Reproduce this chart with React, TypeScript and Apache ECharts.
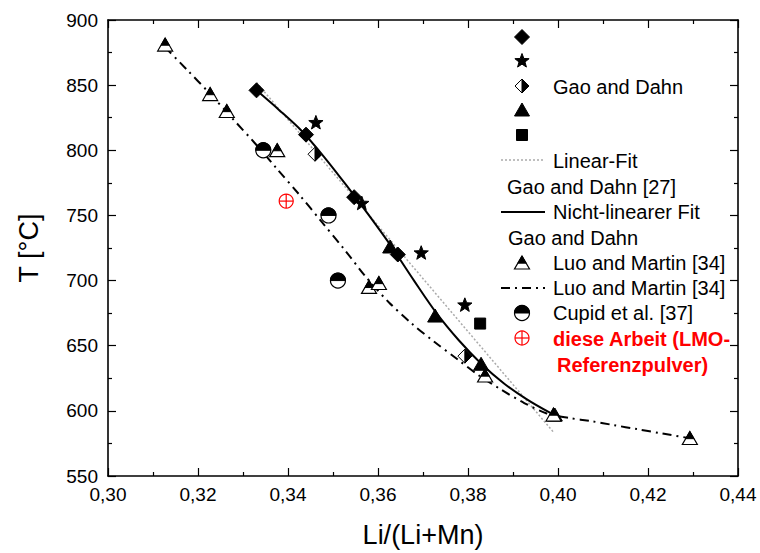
import React, { useEffect, useRef } from "react";
import * as echarts from "echarts";

// ---- data (Li/(Li+Mn), T in °C) ----
const gaoDiamond = [[0.333, 846], [0.344, 812], [0.3547, 764], [0.3644, 720]];
const gaoStar = [[0.3462, 821], [0.3564, 759], [0.3696, 721], [0.3793, 681]];
const gaoHalfDiamond = [[0.346, 797], [0.3793, 642]];
const gaoTriangle = [[0.3627, 725], [0.3727, 672], [0.3829, 635], [0.3993, 596]];
const gaoSquare = [[0.3827, 667]];
const linearFit = [[0.333, 852], [0.3989, 584]];
const nonlinearFit = [[0.333, 846], [0.338, 831], [0.343, 815], [0.348, 795], [0.353, 773], [0.358, 750], [0.363, 726], [0.368, 700], [0.373, 675], [0.378, 654], [0.383, 636], [0.388, 621], [0.393, 609], [0.398, 599], [0.4005, 595]];
const luoPoints = [[0.3127, 880], [0.3227, 842], [0.3264, 829], [0.3376, 799], [0.358, 694], [0.3602, 697], [0.3838, 626], [0.399, 596], [0.4293, 578]];
const luoFit = [[0.3127, 879], [0.3175, 862], [0.3225, 844], [0.3275, 825], [0.3325, 806], [0.3375, 786], [0.3425, 766], [0.3475, 745], [0.3525, 724], [0.3575, 702], [0.3625, 683], [0.3675, 667], [0.3725, 653], [0.3775, 640], [0.3825, 627], [0.3875, 616], [0.3925, 606], [0.3975, 598], [0.4025, 594.5], [0.4075, 592], [0.4125, 589], [0.4175, 586], [0.4225, 583], [0.4293, 579]];
const cupidPoints = [[0.3345, 800], [0.349, 750], [0.3511, 700]];
const thisWork = [[0.3396, 761]];

const xTicks = { min: 0.30, max: 0.44, interval: 0.02 };
const yTicks = { min: 550, max: 900, interval: 50 };

const FONT = "Liberation Sans, Arial, sans-serif";

function starPoints(x: number, y: number, r: number) {
  const pts: number[][] = [];
  for (let i = 0; i < 10; i++) {
    const rr = i % 2 === 0 ? r : r * 0.42;
    const a = -Math.PI / 2 + (i * Math.PI) / 5;
    pts.push([x + rr * Math.cos(a), y + rr * Math.sin(a)]);
  }
  return pts;
}

function semicircle(x: number, y: number, r: number, top: boolean) {
  const pts: number[][] = [];
  for (let i = 0; i <= 24; i++) {
    const a = Math.PI + (i * Math.PI) / 24;
    pts.push([x + r * Math.cos(a), y + (top ? 1 : -1) * r * Math.sin(a)]);
  }
  return pts;
}

function marker(kind: string, x: number, y: number): any {
  const black = { fill: "#000", stroke: "#000", lineWidth: 1 };
  switch (kind) {
    case "diamond": {
      const s = 7.5;
      return { type: "polygon", shape: { points: [[x, y - s], [x + s, y], [x, y + s], [x - s, y]] }, style: black };
    }
    case "star":
      return { type: "polygon", shape: { points: starPoints(x, y, 7.5) }, style: black };
    case "halfDiamond": {
      const s = 7;
      return {
        type: "group",
        children: [
          { type: "polygon", shape: { points: [[x, y - s], [x + s, y], [x, y + s], [x - s, y]] }, style: { fill: "#fff", stroke: "#000", lineWidth: 1 } },
          { type: "polygon", shape: { points: [[x, y - s], [x + s, y], [x, y + s]] }, style: black },
        ],
      };
    }
    case "triangle": {
      const w = 7.5;
      return { type: "polygon", shape: { points: [[x, y - 8], [x + w, y + 5], [x - w, y + 5]] }, style: black };
    }
    case "square":
      return { type: "rect", shape: { x: x - 5.5, y: y - 5.5, width: 11, height: 11 }, style: black };
    case "luo": {
      const w = 7.5;
      const t = 0.55;
      return {
        type: "group",
        children: [
          { type: "polygon", shape: { points: [[x, y - 8], [x + w, y + 5], [x - w, y + 5]] }, style: { fill: "#fff", stroke: "#000", lineWidth: 1.2 } },
          { type: "polygon", shape: { points: [[x, y - 8], [x + w * t, y - 8 + 13 * t], [x - w * t, y - 8 + 13 * t]] }, style: black },
        ],
      };
    }
    case "cupid": {
      const r = 7.5;
      return {
        type: "group",
        children: [
          { type: "circle", shape: { cx: x, cy: y, r }, style: { fill: "#fff", stroke: "#000", lineWidth: 1.2 } },
          { type: "polygon", shape: { points: semicircle(x, y, r, true) }, style: black },
        ],
      };
    }
    case "red": {
      const r = 7;
      const st = { stroke: "#ff0000", lineWidth: 1.2 };
      return {
        type: "group",
        children: [
          { type: "circle", shape: { cx: x, cy: y, r }, style: { fill: "none", ...st } },
          { type: "line", shape: { x1: x - r, y1: y, x2: x + r, y2: y }, style: st },
          { type: "line", shape: { x1: x, y1: y - r, x2: x, y2: y + r }, style: st },
        ],
      };
    }
  }
  return null;
}

function markerSeries(name: string, kind: string, data: number[][]) {
  return {
    type: "custom",
    name,
    data,
    z: 5,
    renderItem: (_p: any, api: any) => {
      const pt = api.coord([api.value(0), api.value(1)]);
      return marker(kind, pt[0], pt[1]);
    },
  };
}

const fmtComma = (v: number) => v.toFixed(2).replace(".", ",");

export default function App() {
  const ref = useRef<HTMLDivElement>(null);
  useEffect(() => {
    if (!ref.current) return;
    const chart = echarts.init(ref.current, null, { renderer: "svg" });

    const axisCommon = {
      type: "value",
      axisLine: { show: true, onZero: false, lineStyle: { color: "#000", width: 1.6 } },
      axisTick: { show: true, inside: true, length: 8, lineStyle: { color: "#000", width: 1.2 } },
      minorTick: { show: true, splitNumber: 2, length: 4, lineStyle: { color: "#000", width: 1.2 } },
      splitLine: { show: false },
    };

    const lx = 522;
    const tx = 553;
    const textStyle = (t: string, x: number, y: number, extra: any = {}) => ({
      type: "text",
      x,
      y,
      style: { text: t, fill: "#000", font: `20px ${FONT}`, textVerticalAlign: "middle", textAlign: "left", ...extra },
      z: 10,
    });
    const legendGraphic: any[] = [
      { ...marker("diamond", lx, 37), z: 10 },
      { ...marker("star", lx, 61), z: 10 },
      { ...marker("halfDiamond", lx, 86), z: 10 },
      textStyle("Gao and Dahn", tx, 87),
      { ...marker("triangle", lx, 111), z: 10 },
      { ...marker("square", lx, 135), z: 10 },
      { type: "line", shape: { x1: 501, y1: 160, x2: 543, y2: 160 }, style: { stroke: "#aaa", lineWidth: 1.5, lineDash: [2, 2] }, z: 10 },
      textStyle("Linear-Fit", tx, 161),
      textStyle("Gao and Dahn [27]", 507, 187),
      { type: "line", shape: { x1: 501, y1: 212, x2: 545, y2: 212 }, style: { stroke: "#000", lineWidth: 2 }, z: 10 },
      textStyle("Nicht-linearer Fit", tx, 212),
      textStyle("Gao and Dahn", 508, 238),
      { ...marker("luo", lx, 264), z: 10 },
      textStyle("Luo and Martin [34]", tx, 263),
      { type: "line", shape: { x1: 501, y1: 288, x2: 545, y2: 288 }, style: { stroke: "#000", lineWidth: 2, lineDash: [9, 5, 2, 5] }, z: 10 },
      textStyle("Luo and Martin [34]", tx, 288),
      { ...marker("cupid", lx, 313), z: 10 },
      textStyle("Cupid et al. [37]", tx, 313),
      { ...marker("red", lx, 338), z: 10 },
      textStyle("diese Arbeit (LMO-", tx, 339, { fill: "#ff0000", font: `bold 20px ${FONT}` }),
      textStyle("Referenzpulver)", 557, 365, { fill: "#ff0000", font: `bold 20px ${FONT}` }),
    ];

    chart.setOption({
      animation: false,
      backgroundColor: "#fff",
      grid: { left: 108, right: 22, top: 20, bottom: 75, containLabel: false },
      xAxis: [
        {
          ...axisCommon,
          position: "bottom",
          ...xTicks,
          name: "Li/(Li+Mn)",
          nameLocation: "middle",
          nameGap: 45,
          nameTextStyle: { fontFamily: FONT, fontSize: 27, color: "#000" },
          axisLabel: { fontFamily: FONT, fontSize: 19, color: "#000", margin: 9, formatter: fmtComma },
        },
        { ...axisCommon, position: "top", ...xTicks, axisLabel: { show: false } },
      ],
      yAxis: [
        {
          ...axisCommon,
          position: "left",
          ...yTicks,
          name: "T [°C]",
          nameLocation: "middle",
          nameGap: 66,
          nameTextStyle: { fontFamily: FONT, fontSize: 27, color: "#000" },
          axisLabel: { fontFamily: FONT, fontSize: 19, color: "#000", margin: 10 },
        },
        { ...axisCommon, position: "right", ...yTicks, axisLabel: { show: false } },
      ],
      graphic: legendGraphic,
      series: [
        {
          type: "line",
          name: "Linear-Fit",
          data: linearFit,
          symbol: "none",
          lineStyle: { color: "#aaa", width: 1.5, type: [2, 2] },
          z: 2,
        },
        {
          type: "line",
          name: "Nicht-linearer Fit",
          data: nonlinearFit,
          symbol: "none",
          smooth: 0.3,
          lineStyle: { color: "#000", width: 2 },
          z: 3,
        },
        {
          type: "line",
          name: "Luo fit",
          data: luoFit,
          symbol: "none",
          smooth: 0.3,
          lineStyle: { color: "#000", width: 2, type: [9, 5, 2, 5] },
          z: 3,
        },
        markerSeries("gaoDiamond", "diamond", gaoDiamond),
        markerSeries("gaoStar", "star", gaoStar),
        markerSeries("gaoHalfDiamond", "halfDiamond", gaoHalfDiamond),
        markerSeries("gaoTriangle", "triangle", gaoTriangle),
        markerSeries("gaoSquare", "square", gaoSquare),
        markerSeries("luo", "luo", luoPoints),
        markerSeries("cupid", "cupid", cupidPoints),
        markerSeries("thisWork", "red", thisWork),
      ],
    });
    return () => chart.dispose();
  }, []);
  return <div ref={ref} style={{ width: 760, height: 553, position: "absolute", left: 0, top: 0 }} />;
}
